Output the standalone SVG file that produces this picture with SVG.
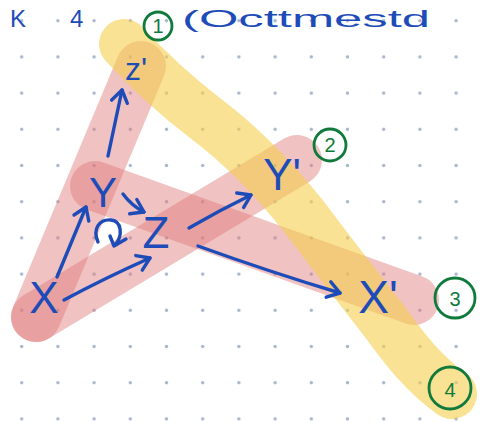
<svg xmlns="http://www.w3.org/2000/svg" width="482" height="422" viewBox="0 0 482 422">
<defs>
<pattern id="dots" x="3.6" y="2.6" width="36.2" height="36.2" patternUnits="userSpaceOnUse">
<circle cx="18.1" cy="18.1" r="1.7" fill="#a7b4cd"/>
</pattern>
<marker id="ah" viewBox="-14 -11 16 22" refX="0" refY="0" markerWidth="16" markerHeight="22" markerUnits="userSpaceOnUse" orient="auto">
<path d="M-12,-8 L0,0 L-12,8" fill="none" stroke="#1d4cb8" stroke-width="3.4" stroke-linecap="round" stroke-linejoin="round"/>
</marker>
<style>
.pink{fill:none;stroke:#e07878;stroke-opacity:.45;stroke-width:50;stroke-linecap:round;stroke-linejoin:round}
.yel{fill:none;stroke:#f5cf4c;stroke-opacity:.6;stroke-width:50;stroke-linecap:round;stroke-linejoin:round}
.lbl{font-family:"Liberation Sans",Arial,sans-serif;fill:#1d4cb8;text-anchor:middle}
.ttl{font-family:"Liberation Sans",Arial,sans-serif;fill:#1d4cb8}
.ink{fill:none;stroke:#1d4cb8;stroke-width:3.4;stroke-linecap:round;stroke-linejoin:round}
.num{fill:none;stroke:#0f7a3c;stroke-width:2.8}
.numt{font-family:"Liberation Sans",Arial,sans-serif;fill:#0f7a3c;text-anchor:middle;font-size:20px}
</style>
</defs>
<rect width="482" height="422" fill="#ffffff"/>
<rect width="482" height="422" fill="url(#dots)"/>

<g id="highlights">
<path class="pink" d="M36,317 L141,66"/>
<path class="pink" d="M36,317 L297,160"/>
<path class="pink" d="M95,186 L414,300"/>
<path class="yel" d="M124,44 C150,72 175,95 205,118 C245,148 275,180 305,218 C335,258 360,290 385,322 C405,350 425,375 452,394"/>
</g>

<g id="title">
<text class="ttl" y="27" font-size="24"><tspan x="10">K</tspan><tspan x="70">4</tspan></text>
<text class="ttl" x="182" y="27" font-size="24" textLength="248" lengthAdjust="spacingAndGlyphs">(Octtmestd</text>
</g>

<g id="connectors">
<path class="ink" d="M108,156 L122,90" marker-end="url(#ah)"/>
<path class="ink" d="M57,277 L86,207" marker-end="url(#ah)"/>
<path class="ink" d="M64,300 Q105,278 150,258" marker-end="url(#ah)"/>
<path class="ink" d="M123,194 Q132,206 144,212" marker-end="url(#ah)"/>
<path class="ink" d="M189,228 Q220,210 251,195" marker-end="url(#ah)"/>
<path class="ink" d="M198,246 Q270,272 340,293" marker-end="url(#ah)"/>
<path class="ink" d="M98,242 C92,228 100,219 111,220 C122,221 123,236 115,245 M110,236 L114,246 L126,239"/>
</g>

<g id="node-z1">
<text class="lbl" x="136" y="80" font-size="32">z'</text>
</g>
<g id="node-Y">
<text class="lbl" x="103" y="207" font-size="42">Y</text>
</g>
<g id="node-Z">
<text class="lbl" x="156" y="248" font-size="44">Z</text>
</g>
<g id="node-Y2">
<text class="lbl" x="282" y="190" font-size="44">Y'</text>
</g>
<g id="node-X">
<text class="lbl" x="44" y="313" font-size="44">X</text>
</g>
<g id="node-X2">
<text class="lbl" x="378" y="313" font-size="46">X'</text>
</g>

<g id="mark-1">
<circle class="num" cx="158" cy="26" r="14"/>
<text class="numt" x="158" y="33">1</text>
</g>
<g id="mark-2">
<circle class="num" cx="330" cy="145" r="16"/>
<text class="numt" x="330" y="152">2</text>
</g>
<g id="mark-3">
<circle class="num" cx="455" cy="298" r="20"/>
<text class="numt" x="455" y="306" font-size="24">3</text>
</g>
<g id="mark-4">
<circle class="num" cx="450" cy="388" r="21"/>
<text class="numt" x="450" y="397" font-size="26">4</text>
</g>
</svg>
